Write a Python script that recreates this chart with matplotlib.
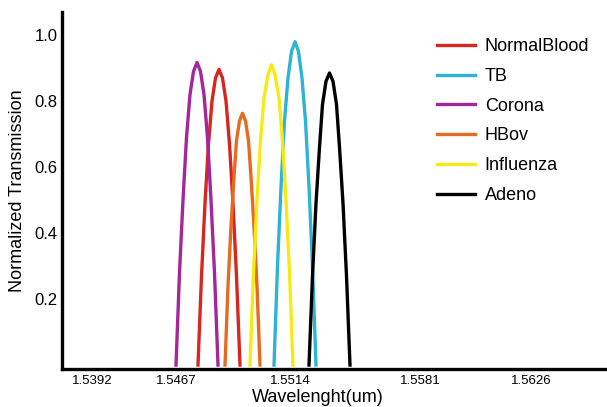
import matplotlib
matplotlib.use("Agg")
import matplotlib.pyplot as plt

plt.rcParams["font.family"] = ["Liberation Sans", "DejaVu Sans"]

# eje x: posiciones a lo largo del eje (las etiquetas del original no son lineales)
tick_pos = [30, 114, 228, 358, 469]
tick_labels = ["1.5392", "1.5467", "1.5514", "1.5581", "1.5626"]

# curvas
x_normal = [136, 139.5, 143, 146.5, 150, 153.5, 157, 160.5, 164, 167.5, 171, 174.5, 178]
y_normal = [0, 0.27, 0.49, 0.67, 0.80, 0.87, 0.896, 0.87, 0.80, 0.67, 0.49, 0.27, 0]

x_tb = [212, 215.5, 219, 222.5, 226, 229.5, 233, 236.5, 240, 243.5, 247, 250.5, 254]
y_tb = [0, 0.30, 0.54, 0.74, 0.87, 0.95, 0.98, 0.95, 0.87, 0.74, 0.54, 0.30, 0]

x_corona = [114, 117.5, 121, 124.5, 128, 131.5, 135, 138.5, 142, 145.5, 149, 152.5, 156]
y_corona = [0, 0.28, 0.50, 0.69, 0.82, 0.89, 0.917, 0.89, 0.82, 0.69, 0.50, 0.28, 0]

x_hbov = [163, 166, 169, 172, 174.5, 177.5, 180.5, 183.5, 186.5, 189, 192, 195, 198]
y_hbov = [0, 0.24, 0.42, 0.57, 0.68, 0.74, 0.763, 0.74, 0.68, 0.57, 0.42, 0.24, 0]

x_influenza = [188, 191.5, 195, 198.5, 202, 206, 209.5, 213, 217, 220.5, 224, 227.5, 231]
y_influenza = [0, 0.28, 0.50, 0.68, 0.81, 0.88, 0.91, 0.88, 0.81, 0.68, 0.50, 0.28, 0]

x_adeno = [247, 250.5, 254, 257.5, 260.5, 264, 267.5, 271, 274.5, 277.5, 281, 284.5, 288]
y_adeno = [0, 0.27, 0.49, 0.66, 0.79, 0.86, 0.885, 0.86, 0.79, 0.66, 0.49, 0.27, 0]

fig = plt.figure(figsize=(6.07, 4.07), dpi=100)
ax = fig.add_axes([62/607, 38/407, 545/607, 357/407])

lw = 2.4
ax.plot(x_normal, y_normal, color="#d8261f", lw=lw, label="NormalBlood")
ax.plot(x_tb, y_tb, color="#2cb4d6", lw=lw, label="TB")
ax.plot(x_corona, y_corona, color="#a3269b", lw=lw, label="Corona")
ax.plot(x_hbov, y_hbov, color="#e66a1f", lw=lw, label="HBov")
ax.plot(x_influenza, y_influenza, color="#f6ea12", lw=lw, label="Influenza")
ax.plot(x_adeno, y_adeno, color="black", lw=lw, label="Adeno")

ax.set_xlim(0, 545)
ax.set_ylim(-0.012, 1.07)

ax.spines["top"].set_visible(False)
ax.spines["right"].set_visible(False)
ax.spines["left"].set_linewidth(2.4)
ax.spines["bottom"].set_linewidth(2.4)

ax.set_xticks(tick_pos)
ax.set_xticklabels(tick_labels)
ax.set_yticks([0.2, 0.4, 0.6, 0.8, 1.0])
ax.tick_params(axis="x", length=0, pad=4, labelsize=9.5)
ax.tick_params(axis="y", length=0, pad=3, labelsize=12)

ax.set_xlabel("Wavelenght(um)", fontsize=13)
ax.xaxis.set_label_coords(0.47, -0.056)
ax.set_ylabel("Normalized Transmission", fontsize=13)
ax.yaxis.set_label_coords(-0.066, 0.5)

ax.legend(loc="upper left", bbox_to_anchor=(437/607, 1 - 38/407),
          bbox_transform=fig.transFigure, frameon=False, fontsize=13,
          handlelength=2.1, handletextpad=0.55, labelspacing=0.71,
          borderpad=0, borderaxespad=0)

fig.savefig("out.png", dpi=100)
